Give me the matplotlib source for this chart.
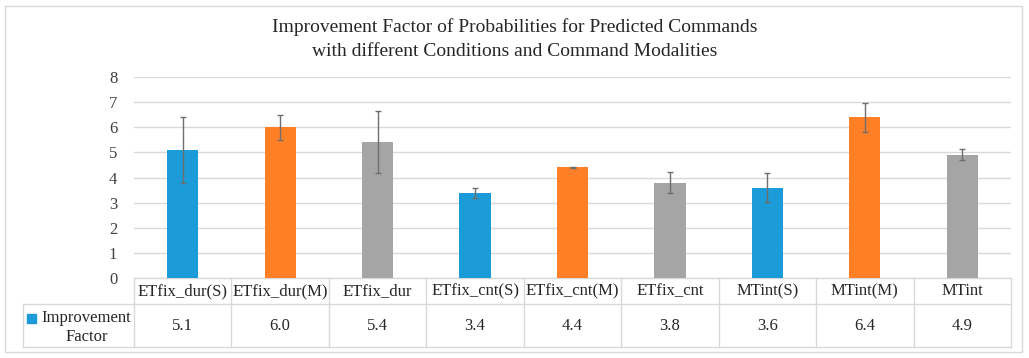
import matplotlib
matplotlib.use("Agg")
import matplotlib.pyplot as plt
from matplotlib.patches import Rectangle
import numpy as np

categories = ["ETfix_dur(S)", "ETfix_dur(M)", "ETfix_dur", "ETfix_cnt(S)", "ETfix_cnt(M)",
              "ETfix_cnt", "MTint(S)", "MTint(M)", "MTint"]
values = [5.1, 6.0, 5.4, 3.4, 4.4, 3.8, 3.6, 6.4, 4.9]
errors = [1.3, 0.5, 1.23, 0.2, 0.03, 0.43, 0.58, 0.58, 0.22]
value_labels = ["5.1", "6.0", "5.4", "3.4", "4.4", "3.8", "3.6", "6.4", "4.9"]
series_name = "Improvement\nFactor"
blue, orange, gray = "#1B9BD7", "#FF7F27", "#A5A5A5"
bar_colors = [blue, orange, gray] * 3

plt.rcParams['font.family'] = ['Liberation Serif', 'DejaVu Serif']

W, H = 1029, 358
fig = plt.figure(figsize=(W / 100, H / 100), dpi=100)
fig.patch.set_facecolor("white")

# outer frame
fig.add_artist(Rectangle((5 / W, 6 / H), 1017 / W, 346 / H, transform=fig.transFigure,
                         fill=False, edgecolor="#D9D9D9", lw=1.0))

left, right, top, bottom = 134, 1011, 77, 278
ax = fig.add_axes([left / W, (H - bottom) / H, (right - left) / W, (bottom - top) / H])

x = np.arange(len(categories))
ax.bar(x, values, width=0.32, color=bar_colors, zorder=3)
ax.errorbar(x, values, yerr=errors, fmt="none", ecolor="#6E6E6E", elinewidth=1.0,
            capsize=2.5, capthick=1.0, zorder=4)

ax.set_xlim(-0.5, len(categories) - 0.5)
ax.set_ylim(0, 8)
ax.set_yticks(range(0, 9))
ax.set_yticklabels([str(i) for i in range(0, 9)], fontsize=12, color="#404040")
ax.tick_params(axis="y", length=0, pad=12)
ax.set_xticks([])
for s in ax.spines.values():
    s.set_visible(False)
ax.yaxis.grid(True, color="#D9D9D9", lw=1.0, zorder=0)
ax.set_axisbelow(True)

# data table below axes
ax_h = bottom - top
ax_w = right - left
y_hdr = -26 / ax_h
y_bot = -69 / ax_h
x_lab = (23 - left) / ax_w
lc = "#D9D9D9"
ax.plot([0, 1], [0, 0], transform=ax.transAxes, color=lc, lw=1.0, clip_on=False)
ax.plot([x_lab, 1], [y_hdr, y_hdr], transform=ax.transAxes, color=lc, lw=1.0, clip_on=False)
ax.plot([x_lab, 1], [y_bot, y_bot], transform=ax.transAxes, color=lc, lw=1.0, clip_on=False)
for i in range(len(categories) + 1):
    xf = i / len(categories)
    ax.plot([xf, xf], [0, y_bot], transform=ax.transAxes, color=lc, lw=1.0, clip_on=False)
ax.plot([x_lab, x_lab], [y_hdr, y_bot], transform=ax.transAxes, color=lc, lw=1.0, clip_on=False)

for i, (c, v) in enumerate(zip(categories, value_labels)):
    xf = (i + 0.5) / len(categories)
    ax.text(xf, y_hdr / 2, c, transform=ax.transAxes, ha="center", va="center",
            fontsize=12, color="#262626")
    ax.text(xf, (y_hdr + y_bot) / 2, v, transform=ax.transAxes, ha="center", va="center",
            fontsize=12, color="#262626")

# legend key in table
ax.add_patch(Rectangle(((27 - left) / ax_w, (bottom - 323) / ax_h), 9 / ax_w, 9 / ax_h,
                       transform=ax.transAxes, color=blue, clip_on=False))
ax.text((86 - left) / ax_w, (bottom - 318) / ax_h, "Improvement", transform=ax.transAxes,
        ha="center", va="center", fontsize=12, color="#262626")
ax.text((87 - left) / ax_w, (bottom - 337) / ax_h, "Factor", transform=ax.transAxes,
        ha="center", va="center", fontsize=12, color="#262626")

fig.text(0.5, 1 - 27 / H, "Improvement Factor of Probabilities for Predicted Commands",
         ha="center", va="center", fontsize=14, color="#262626")
fig.text(0.5, 1 - 52 / H, "with different Conditions and Command Modalities",
         ha="center", va="center", fontsize=14, color="#262626")

fig.savefig("out.png", dpi=100, facecolor="white")
